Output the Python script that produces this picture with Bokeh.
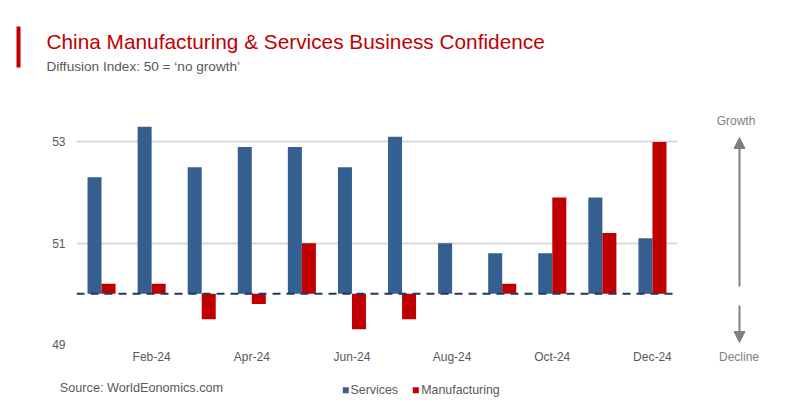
from bokeh.plotting import figure
from bokeh.layouts import column, row
from bokeh.models import (Range1d, FixedTicker, Span, Arrow, NormalHead, ColumnDataSource)
from bokeh.core.properties import value
from bokeh.embed import file_html
from bokeh.resources import INLINE

# ---- data ----
months = list(range(12))
month_names = ["Jan-24", "Feb-24", "Mar-24", "Apr-24", "May-24", "Jun-24",
               "Jul-24", "Aug-24", "Sep-24", "Oct-24", "Nov-24", "Dec-24"]
services = [52.3, 53.3, 52.5, 52.9, 52.9, 52.5, 53.1, 51.0, 50.8, 50.8, 51.9, 51.1]
manufacturing = [50.2, 50.2, 49.5, 49.8, 51.0, 49.3, 49.5, 50.0, 50.2, 51.9, 51.2, 53.0]
baseline = 50
y_ticks = [49, 51, 53]
x_tick_idx = [1, 3, 5, 7, 9, 11]
series_names = ["Services", "Manufacturing"]

BLUE = "#365F91"
RED = "#C00000"
GRAY = "#595959"
ARROW_GRAY = "#808080"
FONT = "Liberation Sans"


def blank(width, height, xr, yr, **borders):
    kw = dict(min_border_left=0, min_border_right=0, min_border_top=0, min_border_bottom=0)
    kw.update(borders)
    f = figure(width=width, height=height, output_backend="svg", toolbar_location=None,
               x_range=Range1d(*xr), y_range=Range1d(*yr), **kw)
    f.axis.visible = False
    f.grid.visible = False
    f.outline_line_color = None
    f.background_fill_color = "white"
    f.border_fill_color = "white"
    return f


# ---- header (pixel-like coordinates, y downward) ----
header = blank(800, 100, (0, 800), (100, 0))
header.segment(x0=[18], y0=[26], x1=[18], y1=[67], line_color=RED, line_width=4)
header.text(x=[46], y=[40.8], text=["China Manufacturing & Services Business Confidence"],
            text_font=value(FONT), text_font_size="20.8px", text_color=RED,
            text_baseline="middle", text_align="left")
header.text(x=[46], y=[65.5], text=["Diffusion Index: 50 = \u2018no growth\u2019"],
            text_font=value(FONT), text_font_size="13.6px", text_color=GRAY,
            text_baseline="middle", text_align="left")

# ---- main chart ----
bar_w = 0.28
src = ColumnDataSource(dict(
    xs=[m - bar_w / 2 for m in months],
    xm=[m + bar_w / 2 for m in months],
    services=services,
    manufacturing=manufacturing,
    base=[baseline] * len(months),
))

p = figure(width=685, height=272, output_backend="svg", toolbar_location=None,
           x_range=Range1d(-0.5, 11.5), y_range=Range1d(49, 53.6),
           min_border_left=76, min_border_right=8, min_border_top=11,
           min_border_bottom=28)
p.outline_line_color = None
p.background_fill_color = "white"
p.border_fill_color = "white"

p.vbar(x="xs", top="services", bottom="base", width=bar_w, source=src,
       fill_color=BLUE, line_color=None)
p.vbar(x="xm", top="manufacturing", bottom="base", width=bar_w, source=src,
       fill_color=RED, line_color=None)

p.add_layout(Span(location=baseline, dimension="width", line_color="#203864",
                  line_width=2, line_dash="8 6"))

p.xgrid.visible = False
p.yaxis.ticker = FixedTicker(ticks=y_ticks)
p.ygrid.ticker = FixedTicker(ticks=y_ticks)
p.ygrid.grid_line_color = "#D9D9D9"
p.ygrid.grid_line_width = 2
p.yaxis.axis_line_color = None
p.yaxis.major_tick_line_color = None
p.yaxis.minor_tick_line_color = None
p.yaxis.major_tick_out = 0
p.yaxis.major_tick_in = 0
p.yaxis.major_label_standoff = 11
p.yaxis.major_label_text_font = FONT
p.yaxis.major_label_text_font_size = "12px"
p.yaxis.major_label_text_color = GRAY

p.xaxis.ticker = FixedTicker(ticks=x_tick_idx)
p.xaxis.major_label_overrides = {i: month_names[i] for i in x_tick_idx}
p.xaxis.axis_line_color = None
p.xaxis.major_tick_line_color = None
p.xaxis.minor_tick_line_color = None
p.xaxis.major_tick_out = 0
p.xaxis.major_tick_in = 0
p.xaxis.major_label_standoff = 5
p.xaxis.major_label_text_font = FONT
p.xaxis.major_label_text_font_size = "12px"
p.xaxis.major_label_text_color = GRAY

# ---- side panel: growth / decline arrows (frame aligned with main frame) ----
side = blank(115, 272, (685, 792), (344, 111),
             min_border_right=8, min_border_top=11, min_border_bottom=28)
side.add_layout(Arrow(x_start=739, y_start=286, x_end=739, y_end=137,
                      line_color=ARROW_GRAY, line_width=2,
                      end=NormalHead(size=11, fill_color=ARROW_GRAY, line_color=ARROW_GRAY)))
side.add_layout(Arrow(x_start=739, y_start=305, x_end=739, y_end=342,
                      line_color=ARROW_GRAY, line_width=2,
                      end=NormalHead(size=11, fill_color=ARROW_GRAY, line_color=ARROW_GRAY)))
side.text(x=[735.5], y=[120], text=["Growth"],
          text_font=value(FONT), text_font_size="12px", text_color=ARROW_GRAY,
          text_align="center", text_baseline="middle")
sx = side.xaxis[0]
sx.visible = True
sx.ticker = FixedTicker(ticks=[])
sx.axis_line_color = None
sx.major_tick_line_color = None
sx.minor_tick_line_color = None
sx.major_tick_out = 0
sx.major_tick_in = 0
sx.major_label_standoff = 0
sx.axis_label = "Decline"
sx.axis_label_standoff = 5
sx.axis_label_text_font = FONT
sx.axis_label_text_font_size = "12px"
sx.axis_label_text_font_style = "normal"
sx.axis_label_text_color = ARROW_GRAY

# ---- footer: source + legend ----
footer = blank(800, 28, (0, 800), (400, 372))
footer.text(x=[59.3], y=[387.8], text=["Source: WorldEonomics.com"],
            text_font=value(FONT), text_font_size="12.7px", text_color=GRAY,
            text_baseline="middle", text_align="left")
footer.scatter(x=[345.3, 415.3], y=[389.8, 389.8], marker="square", size=6,
               fill_color=[BLUE, RED], line_color=None)
footer.text(x=[350, 420.7], y=[389.5, 389.5], text=series_names,
            text_font=value(FONT), text_font_size="12.4px", text_color=GRAY,
            text_baseline="middle", text_align="left")

layout = column(header, row(p, side), footer)
open("out.html", "w").write(file_html(layout, INLINE))
